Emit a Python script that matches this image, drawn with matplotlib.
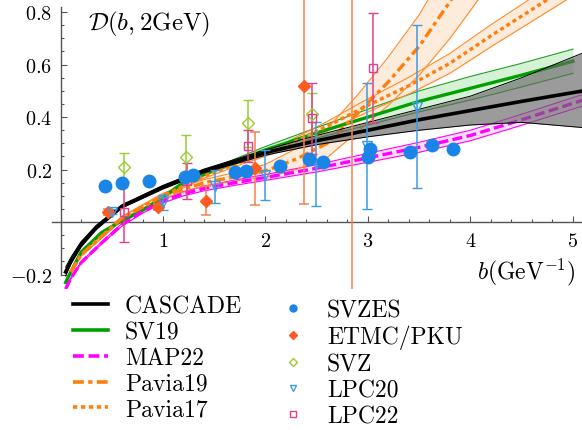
import numpy as np
import matplotlib
matplotlib.use('Agg')
import matplotlib.pyplot as plt
from matplotlib.lines import Line2D
from matplotlib.ticker import FixedLocator

plt.rcParams['font.family'] = 'serif'
plt.rcParams['font.serif'] = ['cmr10', 'DejaVu Serif']
plt.rcParams['mathtext.fontset'] = 'cm'
plt.rcParams['axes.formatter.use_mathtext'] = True

# ---- curves (b in GeV^-1) ----
cascade_b = [0.05, 0.1, 0.2, 0.35, 0.6, 1.0, 1.4, 2.0, 2.5, 3.0, 3.5, 4.0, 4.5, 5.1]
cascade_y = [-0.19, -0.15, -0.085, -0.02, 0.06, 0.133, 0.195, 0.265, 0.31, 0.35, 0.39, 0.425, 0.46, 0.50]
cascade_hi = [-0.172, -0.135, -0.075, -0.012, 0.066, 0.14, 0.202, 0.275, 0.33, 0.38, 0.43, 0.48, 0.55, 0.645]
cascade_lo = [-0.205, -0.16, -0.095, -0.028, 0.054, 0.126, 0.188, 0.255, 0.295, 0.325, 0.35, 0.37, 0.38, 0.36]

sv19_b = [0.05, 0.1, 0.2, 0.4, 0.6, 0.8, 1.0, 1.2, 1.5, 2.0, 2.5, 3.0, 3.5, 4.0, 4.5, 5.0]
sv19_y = [-0.23, -0.19, -0.115, -0.04, 0.005, 0.045, 0.095, 0.15, 0.2, 0.275, 0.34, 0.40, 0.46, 0.51, 0.56, 0.613]
sv19_err = [0.0, 0.0, 0.0, 0.0, 0.0, 0.002, 0.004, 0.006, 0.008, 0.013, 0.02, 0.03, 0.04, 0.045, 0.045, 0.046]

map22_b = [0.05, 0.1, 0.2, 0.4, 0.6, 0.8, 1.0, 1.2, 1.4, 1.7, 2.0, 2.5, 3.0, 3.5, 4.0, 4.5, 5.1]
map22_y = [-0.255, -0.215, -0.155, -0.08, -0.01, 0.04, 0.08, 0.108, 0.128, 0.15, 0.17, 0.205, 0.245, 0.285, 0.33, 0.39, 0.465]
map22_err = [0.003, 0.003, 0.003, 0.004, 0.005, 0.006, 0.007, 0.008, 0.009, 0.01, 0.011, 0.014, 0.017, 0.019, 0.02, 0.021, 0.022]

pavia19_b = [0.1, 0.2, 0.4, 0.6, 1.0, 1.4, 1.8, 2.0, 2.3, 2.6, 2.9, 3.2, 3.5, 3.8, 4.1]
pavia19_y = [-0.19, -0.125, -0.055, 0.015, 0.1, 0.15, 0.18, 0.195, 0.24, 0.30, 0.415, 0.535, 0.67, 0.84, 1.02]
pavia19_hi = [-0.185, -0.12, -0.048, 0.022, 0.11, 0.162, 0.198, 0.22, 0.28, 0.355, 0.485, 0.63, 0.79, 0.99, 1.2]
pavia19_lo = [-0.195, -0.13, -0.062, 0.008, 0.09, 0.138, 0.162, 0.17, 0.20, 0.245, 0.345, 0.445, 0.56, 0.70, 0.86]

pavia17_b = [0.1, 0.2, 0.4, 0.6, 1.0, 1.4, 1.8, 2.2, 2.6, 3.0, 3.4, 3.8, 4.2, 4.6, 5.0]
pavia17_y = [-0.19, -0.125, -0.055, 0.015, 0.1, 0.175, 0.235, 0.29, 0.365, 0.445, 0.52, 0.605, 0.71, 0.81, 0.91]
pavia17_err = [0.003, 0.003, 0.004, 0.005, 0.006, 0.008, 0.01, 0.013, 0.018, 0.025, 0.032, 0.038, 0.042, 0.045, 0.048]

# ---- lattice / data points ----
svzes_b = [0.43, 0.60, 0.86, 1.21, 1.29, 1.70, 1.81, 2.14, 2.42, 2.56, 3.00, 3.02, 3.41, 3.62, 3.83]
svzes_y = [0.138, 0.148, 0.157, 0.172, 0.18, 0.19, 0.195, 0.213, 0.24, 0.228, 0.247, 0.28, 0.267, 0.293, 0.28]

etmc_b = [0.46, 0.95, 1.42, 1.90, 2.38, 2.84]
etmc_y = [0.038, 0.057, 0.082, 0.205, 0.52, 1.0]
etmc_err = [0.01, 0.01, 0.055, 0.14, 0.45, 1.3]

svz_b = [0.62, 1.22, 1.83, 2.45]
svz_y = [0.21, 0.247, 0.377, 0.41]
svz_err = [0.055, 0.085, 0.09, 0.08]

lpc20_b = [0.50, 1.00, 1.51, 2.00, 2.49, 2.99, 3.48]
lpc20_y = [0.04, 0.075, 0.137, 0.18, 0.22, 0.29, 0.44]
lpc20_err = [0.01, 0.03, 0.063, 0.095, 0.16, 0.24, 0.31]

lpc22_b = [0.62, 1.23, 1.83, 2.45, 3.05]
lpc22_y = [0.038, 0.157, 0.29, 0.395, 0.587]
lpc22_err = [0.115, 0.068, 0.06, 0.135, 0.21]

fig = plt.figure(figsize=(5.82, 4.31), dpi=100)
ax = fig.add_axes([52 / 582, 1 - 290 / 431, 530 / 582, 290 / 431])

# bands + central lines
sv_y = np.array(sv19_y); sv_e = np.array(sv19_err)
ax.fill_between(sv19_b, sv_y - sv_e, sv_y + sv_e, color='#d6f2d6', lw=0, zorder=1)
ax.plot(sv19_b, sv_y + sv_e, color='#1f9f1f', lw=0.8, zorder=1.5)
ax.plot(sv19_b, sv_y - sv_e, color='#1f9f1f', lw=0.8, zorder=1.5)
ax.plot(sv19_b, sv_y, color='#00a000', lw=2.4, zorder=2)

m_y = np.array(map22_y); m_e = np.array(map22_err)
ax.fill_between(map22_b, m_y - m_e, m_y + m_e, color='#ffe0ff', lw=0, zorder=1)
ax.plot(map22_b, m_y + m_e, color='#ff00ff', lw=0.8, zorder=1.5)
ax.plot(map22_b, m_y - m_e, color='#ff00ff', lw=0.8, zorder=1.5)
ax.plot(map22_b, m_y, color='#ff00ff', lw=2.4, ls=(0, (3, 1.3)), zorder=2)

ax.fill_between(pavia19_b, pavia19_lo, pavia19_hi, color='#fdebdc', lw=0, zorder=1)
ax.plot(pavia19_b, pavia19_hi, color='#ff8c2a', lw=0.8, zorder=1.5)
ax.plot(pavia19_b, pavia19_lo, color='#ff8c2a', lw=0.8, zorder=1.5)
ax.plot(pavia19_b, pavia19_y, color='#ff7f0e', lw=2.4, ls=(0, (3, 1.2, 1.2, 1.2)), zorder=2)

p_y = np.array(pavia17_y); p_e = np.array(pavia17_err)
ax.fill_between(pavia17_b, p_y - p_e, p_y + p_e, color='#fdebdc', lw=0, zorder=1)
ax.plot(pavia17_b, p_y + p_e, color='#ff8c2a', lw=0.8, zorder=1.5)
ax.plot(pavia17_b, p_y - p_e, color='#ff8c2a', lw=0.8, zorder=1.5)
ax.plot(pavia17_b, p_y, color='#ff7f0e', lw=2.4, ls=(0, (1.2, 1.0)), zorder=2)

ax.fill_between(cascade_b, cascade_lo, cascade_hi, color='#666666', alpha=0.65, lw=0, zorder=3)
ax.plot(cascade_b, cascade_hi, color='black', lw=0.7, zorder=3.2)
ax.plot(cascade_b, cascade_lo, color='black', lw=0.7, zorder=3.2)
ax.plot(cascade_b, cascade_y, color='black', lw=2.6, zorder=3.5)

# data points
ax.plot(svzes_b, svzes_y, 'o', color='#1a85e6', ms=9, zorder=6)
ax.errorbar(etmc_b, etmc_y, yerr=etmc_err, fmt='D', color='#ff5a1f', ecolor='#f58050',
            ms=6, elinewidth=1.1, capsize=3.5, capthick=1.1, zorder=5)
ax.errorbar(svz_b, svz_y, yerr=svz_err, fmt='D', mfc='none', mec='#9acd32', ecolor='#9acd32',
            ms=6.5, mew=1.0, elinewidth=1.1, capsize=3.5, capthick=1.1, zorder=5)
ax.errorbar(lpc20_b, lpc20_y, yerr=lpc20_err, fmt='v', mfc='none', mec='#3c9be6', ecolor='#3c9be6',
            ms=7, mew=1.0, elinewidth=1.1, capsize=3.5, capthick=1.1, zorder=5)
ax.errorbar(lpc22_b, lpc22_y, yerr=lpc22_err, fmt='s', mfc='none', mec='#e0408c', ecolor='#e0408c',
            ms=5.5, mew=1.0, elinewidth=1.1, capsize=3.5, capthick=1.1, zorder=5)

# axes in the Mathematica style: crossing at the origin
ax.set_xlim(-0.083, 5.088)
ax.set_ylim(-0.255, 0.85)
for s in ['top', 'right']:
    ax.spines[s].set_visible(False)
ax.spines['left'].set_position(('data', 0))
ax.spines['bottom'].set_position(('data', 0))
ax.spines['left'].set_bounds(-0.2, 0.82)
for s in ['left', 'bottom']:
    ax.spines[s].set_color('#555555')
    ax.spines[s].set_linewidth(1.0)
    ax.spines[s].set_zorder(0.5)

ax.set_xticks([1, 2, 3, 4, 5])
ax.set_yticks([-0.2, 0.2, 0.4, 0.6, 0.8])
ax.set_yticklabels(['$-0.2$', '$0.2$', '$0.4$', '$0.6$', '$0.8$'])
ax.set_xticklabels(['$1$', '$2$', '$3$', '$4$', '$5$'])
ax.xaxis.set_minor_locator(FixedLocator([x / 5 for x in range(1, 26) if x % 5]))
ax.yaxis.set_minor_locator(FixedLocator([y / 20 for y in range(-4, 17) if y % 4 and y != 0]))
ax.tick_params(which='both', direction='in', color='#555555', width=0.8, labelsize=14.5)
ax.tick_params(which='major', length=4.5)
ax.tick_params(which='minor', length=2.5)
ax.tick_params(axis='y', pad=6)
ax.tick_params(axis='x', pad=7)

ax.text(0.068, 0.915, r'$\mathcal{D}(b,2\mathrm{GeV})$', transform=ax.transAxes,
        fontsize=18, ha='left', va='center')
ax.text(0.987, 0.062, r'$b(\mathrm{GeV}^{-1})$', transform=ax.transAxes,
        fontsize=17, ha='right', va='center')

# legends
line_handles = [
    Line2D([], [], color='black', lw=2.6),
    Line2D([], [], color='#00a000', lw=2.6),
    Line2D([], [], color='#ff00ff', lw=2.6, ls=(0, (3, 1.3))),
    Line2D([], [], color='#ff7f0e', lw=2.6, ls=(0, (3, 1.2, 1.2, 1.2))),
    Line2D([], [], color='#ff7f0e', lw=2.6, ls=(0, (1.2, 1.0))),
]
line_labels = ['CASCADE', 'SV19', 'MAP22', 'Pavia19', 'Pavia17']
mark_handles = [
    Line2D([], [], ls='none', marker='o', color='#1a85e6', ms=5),
    Line2D([], [], ls='none', marker='D', color='#ff5a1f', ms=4),
    Line2D([], [], ls='none', marker='D', mfc='none', mec='#9acd32', ms=4),
    Line2D([], [], ls='none', marker='v', mfc='none', mec='#3c9be6', ms=4.5),
    Line2D([], [], ls='none', marker='s', mfc='none', mec='#e0408c', ms=4),
]
mark_labels = ['SVZES', 'ETMC/PKU', 'SVZ', 'LPC20', 'LPC22']

leg_kw = dict(frameon=False, fontsize=17, handlelength=1.5, handletextpad=0.7,
              labelspacing=0.16, borderpad=0, borderaxespad=0, loc='upper left')
fig.legend(line_handles, line_labels, bbox_to_anchor=(73 / 582, 1 - 296 / 431), **leg_kw)
fig.legend(mark_handles, mark_labels, bbox_to_anchor=(275 / 582, 1 - 300 / 431), **leg_kw)

fig.savefig('out.png', dpi=100)
